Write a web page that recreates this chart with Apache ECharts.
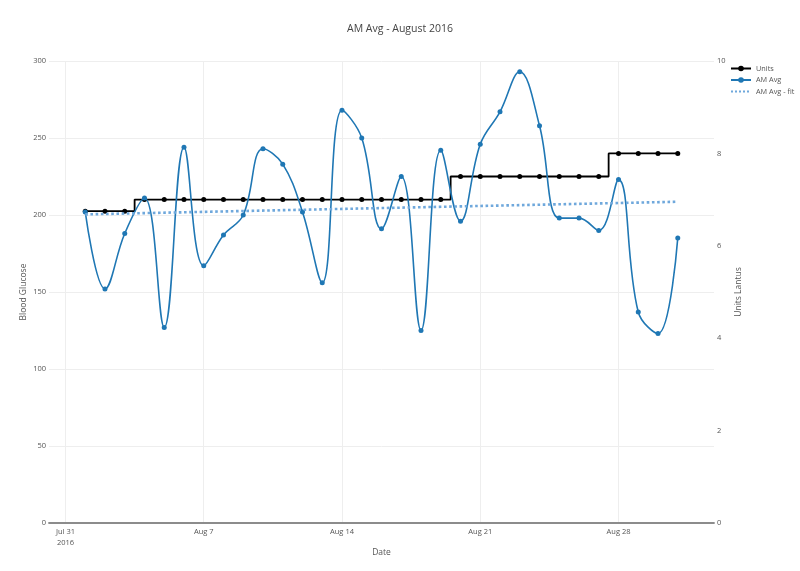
<!DOCTYPE html>
<html>
<head>
<meta charset="utf-8">
<script src="https://cdn.jsdelivr.net/npm/echarts@6/dist/echarts.min.js"></script>
<style>
html,body{margin:0;padding:0;background:#fff;}
#chart{width:800px;height:571px;}
</style>
</head>
<body>
<div id="chart"></div>
<script>
const dates = ['2016-08-01','2016-08-02','2016-08-03','2016-08-04','2016-08-05','2016-08-06','2016-08-07','2016-08-08','2016-08-09','2016-08-10','2016-08-11','2016-08-12','2016-08-13','2016-08-14','2016-08-15','2016-08-16','2016-08-17','2016-08-18','2016-08-19','2016-08-20','2016-08-21','2016-08-22','2016-08-23','2016-08-24','2016-08-25','2016-08-26','2016-08-27','2016-08-28','2016-08-29','2016-08-30','2016-08-31'];
const units = [6.75,6.75,6.75,7,7,7,7,7,7,7,7,7,7,7,7,7,7,7,7,7.5,7.5,7.5,7.5,7.5,7.5,7.5,7.5,8,8,8,8];
const amAvg = [202,152,188,211,127,244,167,187,200,243,233,202,156,268,250,191,225,125,242,196,246,267,293,258,198,198,190,223,137,123,185];
const fitDates = ['2016-08-01','2016-08-31'];
const fitValues = [200.4,208.6];
const xTicks = ['2016-07-31','2016-08-07','2016-08-14','2016-08-21','2016-08-28'];
const monthNames = ['Jan','Feb','Mar','Apr','May','Jun','Jul','Aug','Sep','Oct','Nov','Dec'];

function toTime(s){ const p = s.split('-').map(Number); return Date.UTC(p[0], p[1]-1, p[2]); }
const DAY = 864e5;
const xMin = toTime(dates[0]) - 1.835*DAY;
const xMax = toTime(dates[dates.length-1]) + 1.835*DAY;
const tickVals = xTicks.map(toTime);
const firstTick = tickVals[0];

const font = "'Open Sans', sans-serif";
const txt = '#555';

const chart = echarts.init(document.getElementById('chart'), null, {renderer:'canvas'});
chart.setOption({
  animation:false,
  backgroundColor:'#fff',
  title:{text:'AM Avg - August 2016', left:'center', top:19,
    textStyle:{fontFamily:font, fontSize:10.5, fontWeight:'normal', color:'#444'}},
  legend:{orient:'vertical', left:730, top:65, padding:0, itemWidth:20, itemHeight:7, itemGap:4.5,
    textStyle:{fontFamily:font, fontSize:7.3, color:txt},
    data:['Units','AM Avg',{name:'AM Avg - fit', itemStyle:{opacity:0}}]},
  grid:{left:49, right:86, top:61, bottom:48, containLabel:false},
  xAxis:{type:'value', min:xMin, max:xMax, scale:true,
    name:'Date', nameLocation:'middle', nameGap:25, nameMoveOverlap:false,
    nameTextStyle:{fontFamily:font, fontSize:8.5, color:txt},
    axisLine:{show:true, onZero:false, lineStyle:{color:'#8c8c8c', width:1.8}},
    axisTick:{show:false, customValues:tickVals},
    axisLabel:{customValues:tickVals, fontFamily:font, fontSize:7.5, color:txt, margin:3, lineHeight:11,
      formatter:function(v){ const d=new Date(v); let s=monthNames[d.getUTCMonth()]+' '+d.getUTCDate(); if(Math.abs(v-firstTick)<1000) s+='\n'+d.getUTCFullYear(); return s; }},
    splitLine:{show:true, lineStyle:{color:'#eee', width:1}}
  },
  yAxis:[
    {type:'value', min:0, max:300, interval:50, position:'left',
      name:'Blood Glucose', nameLocation:'middle', nameGap:21, nameMoveOverlap:false,
      nameTextStyle:{fontFamily:font, fontSize:8.5, color:txt},
      axisLine:{show:false}, axisTick:{show:false},
      axisLabel:{fontFamily:font, fontSize:7.5, color:txt, margin:3},
      splitLine:{show:true, lineStyle:{color:'#eee', width:1}}},
    {type:'value', min:0, max:10, interval:2, position:'right',
      name:'Units Lantus', nameLocation:'middle', nameGap:20, nameMoveOverlap:false,
      nameTextStyle:{fontFamily:font, fontSize:8.5, color:txt},
      axisLine:{show:false}, axisTick:{show:false},
      axisLabel:{fontFamily:font, fontSize:7.5, color:txt, margin:3},
      splitLine:{show:false}}
  ],
  series:[
    {name:'Units', type:'line', yAxisIndex:1, step:'middle',
      data:dates.map((d,i)=>[toTime(d), units[i]]),
      symbol:'circle', symbolSize:5, showAllSymbol:true,
      lineStyle:{color:'#000', width:1.8}, itemStyle:{color:'#000'}, z:2},
    {name:'AM Avg', type:'line', yAxisIndex:0, smooth:0.4,
      data:dates.map((d,i)=>[toTime(d), amAvg[i]]),
      symbol:'circle', symbolSize:5, showAllSymbol:true,
      lineStyle:{color:'#1f77b4', width:1.6}, itemStyle:{color:'#1f77b4'}, z:3},
    {name:'AM Avg - fit', type:'line', yAxisIndex:0,
      data:fitDates.map((d,i)=>[toTime(d), fitValues[i]]),
      symbol:'none',
      lineStyle:{color:'#6fa8dc', width:2.6, type:'dotted'}, itemStyle:{color:'#6fa8dc'}, z:4}
  ]
});
</script>
</body>
</html>
